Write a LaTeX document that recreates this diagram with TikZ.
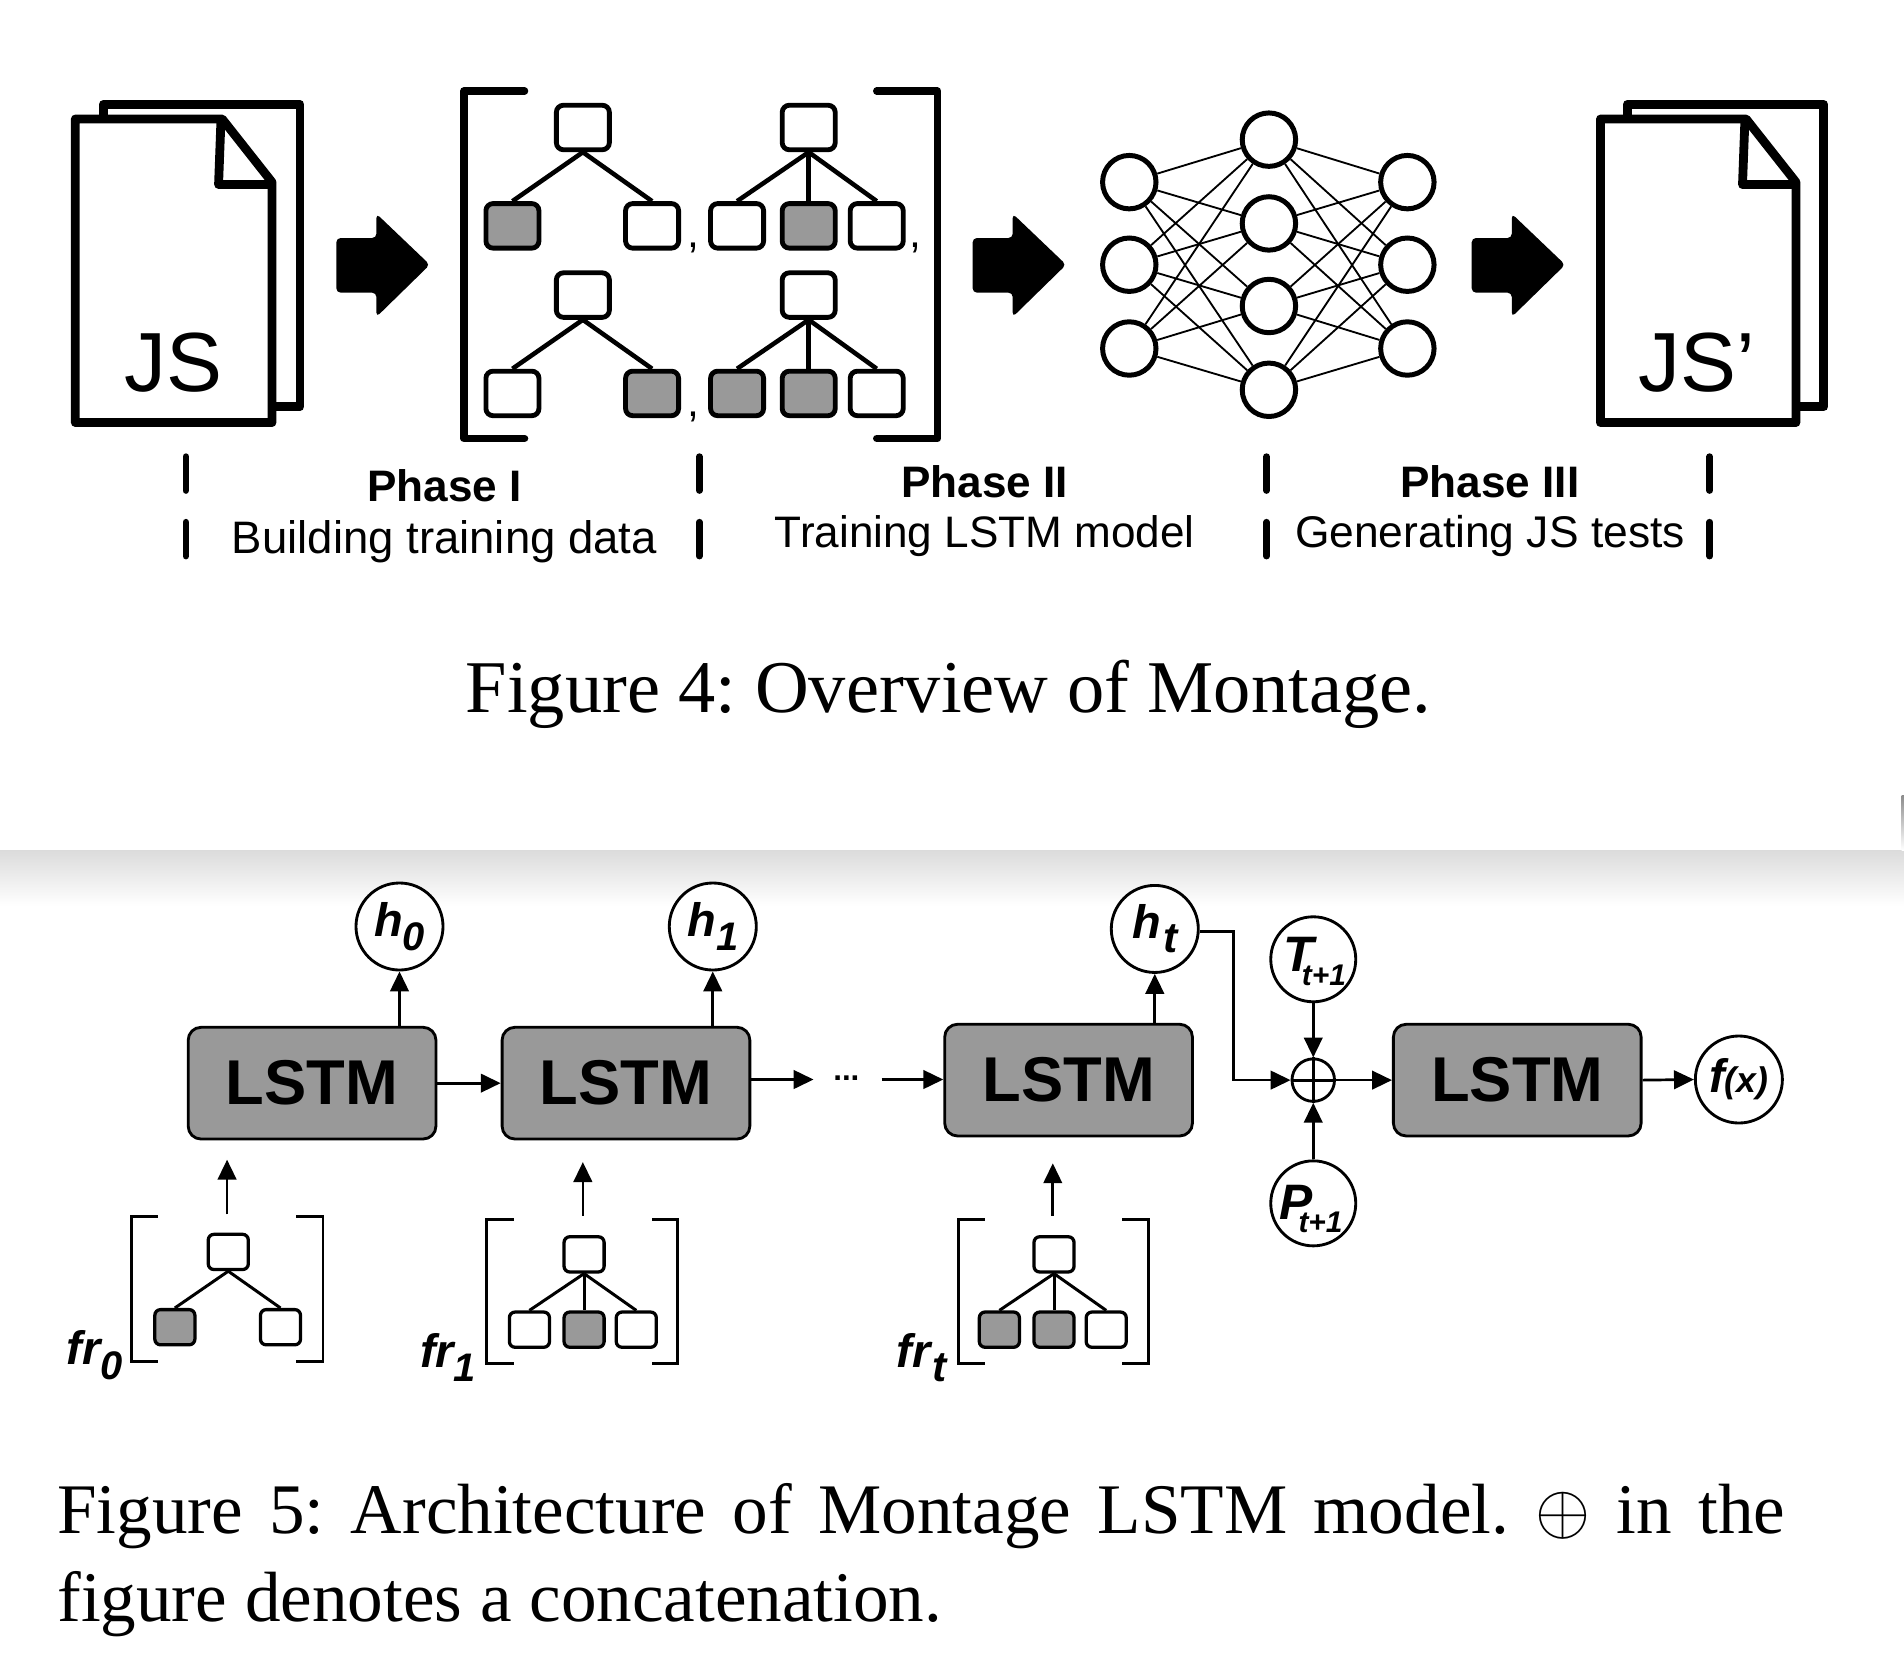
\documentclass[tikz,border=0pt]{standalone}
\usepackage{graphicx}
\usepackage{fontspec}
\setmainfont{Liberation Serif}
\setsansfont{Liberation Sans}
\usetikzlibrary{arrows.meta, positioning}

\definecolor{BoxGray}{RGB}{153, 153, 153}
\newcommand{\fsize}[1]{\fontsize{#1}{#1}\selectfont}
\newcommand{\lowsub}[3]{#1\raisebox{-0.3em}{\fsize{#3}#2}}
\newcommand{\tokensub}[5]{\makebox[0pt][l]{\kern-#4\raisebox{-#2}[0pt][0pt]{#1}\kern-#5\raisebox{-#3}[0pt][0pt]{\fsize{21}t+1}}}

\tikzset{
    pagedoc/.style={line width=6.2pt, line join=round, fill=white},
    bigbracket/.style={line width=5.2pt, line cap=round, line join=round},
    smallbracket/.style={line width=2.1pt},
    bigleaf/.style={draw, line width=3.4pt, rounded corners=5pt, fill=white, minimum width=1.31cm, minimum height=1.1cm, inner sep=0},
    smallleaf/.style={draw, line width=2.3pt, rounded corners=4pt, fill=white, minimum width=0.99cm, minimum height=0.87cm, inner sep=0},
    filled/.style={fill=BoxGray},
    bigedge/.style={line width=3.2pt},
    smalledge/.style={line width=2.1pt},
    nncirc/.style={draw, circle, line width=3.5pt, fill=white, minimum size=1.32cm, inner sep=0},
    nnline/.style={line width=1.3pt},
    septick/.style={line width=4.6pt, line cap=round},
    phasehead/.style={font=\sffamily\bfseries\fsize{31}, anchor=base},
    phasetext/.style={font=\sffamily\fsize{31.2}, anchor=base},
    captionline/.style={font=\rmfamily\frenchspacing\fsize{50}, anchor=base west, inner sep=0},
    lstmbox/.style={draw, line width=2pt, rounded corners=9pt, fill=BoxGray, minimum width=6.12cm, minimum height=2.76cm, inner sep=0, font=\sffamily\bfseries\fsize{44.5}},
    statecirc/.style={draw, circle, line width=2pt, fill=white, minimum size=2.15cm, inner sep=0, font=\sffamily\bfseries\itshape\fsize{33}},
    tokencirc/.style={statecirc, minimum size=2.1cm, font=\sffamily\bfseries\itshape\fsize{35}},
    framelabel/.style={font=\sffamily\bfseries\itshape\fsize{33}},
    flowarrow/.style={-{Triangle[length=14pt,width=13pt]}, line width=1.9pt}
}

\begin{document}
\begin{tikzpicture}[x=0.03cm, y=-0.03cm]
    \useasboundingbox (0,0) rectangle (1568,1372);
    \fill[white] (0,0) rectangle (1568,1372);

    % window edge between the two figures
    \shade[top color=black!14, bottom color=white] (0,700) rectangle (1568,746);
    \shade[top color=black!45, bottom color=white] (1566,655) rectangle (1568,700);

    % input documents
    \draw[pagedoc] (85,86) rectangle (247,335);
    \draw[pagedoc] (62,98) -- (183,98) -- (224,150) -- (224,348) -- (62,348) -- cycle;
    \draw[pagedoc, fill=none] (182,98) -- (180,152) -- (224,152);
    \node[font=\sffamily\fsize{59}, anchor=base] (jsIn) at (143,322) {JS};

    % block arrows
    \foreach \bx in {277,801,1212}
        \fill[black, rounded corners=3pt, shift={(\bx,0)}] (0,196) -- (33,196) -- (33,176) -- (77,218) -- (33,261) -- (33,241) -- (0,241) -- cycle;

    % training data
    \draw[bigbracket] (432,75) -- (382,75) -- (382,361) -- (432,361);
    \draw[bigbracket] (722,75) -- (772,75) -- (772,361) -- (722,361);

    \node[bigleaf] (rootA) at (480,105) {};
    \node[bigleaf, filled] (leafAa) at (422,186) {};
    \node[bigleaf] (leafAb) at (537,186) {};
    \node[bigleaf] (rootB) at (666,105) {};
    \node[bigleaf] (leafBa) at (607,186) {};
    \node[bigleaf, filled] (leafBb) at (666,186) {};
    \node[bigleaf] (leafBc) at (722,186) {};
    \node[bigleaf] (rootC) at (480,243) {};
    \node[bigleaf] (leafCa) at (422,324) {};
    \node[bigleaf, filled] (leafCb) at (537,324) {};
    \node[bigleaf] (rootD) at (666,243) {};
    \node[bigleaf, filled] (leafDa) at (607,324) {};
    \node[bigleaf, filled] (leafDb) at (666,324) {};
    \node[bigleaf] (leafDc) at (722,324) {};

    \foreach \t in {A,C}
        \foreach \c in {a,b}
            \draw[bigedge] (root\t.south) -- (leaf\t\c.north);
    \foreach \t in {B,D}
        \foreach \c in {a,b,c}
            \draw[bigedge] (root\t.south) -- (leaf\t\c.north);

    \node[font=\sffamily\fsize{30}, anchor=base] (commaA) at (571,204) {,};
    \node[font=\sffamily\fsize{30}, anchor=base] (commaB) at (754,204) {,};
    \node[font=\sffamily\fsize{30}, anchor=base] (commaC) at (571,343) {,};

    % network
    \foreach \y [count=\i] in {150,218,287}
        \node[nncirc] (inN\i) at (930,\y) {};
    \foreach \y [count=\i] in {115,184,252,321}
        \node[nncirc] (midN\i) at (1045,\y) {};
    \foreach \y [count=\i] in {150,218,287}
        \node[nncirc] (outN\i) at (1159,\y) {};
    \foreach \i in {1,2,3}
        \foreach \j in {1,2,3,4} {
            \draw[nnline] (inN\i) -- (midN\j);
            \draw[nnline] (outN\i) -- (midN\j);
        }

    % output documents
    \draw[pagedoc] (1340,86) rectangle (1502,335);
    \draw[pagedoc] (1318,98) -- (1438,98) -- (1479,150) -- (1479,348) -- (1318,348) -- cycle;
    \draw[pagedoc, fill=none] (1437,98) -- (1435,152) -- (1479,152);
    \node[font=\sffamily\fsize{59}, anchor=base] (jsOut) at (1397,322) {JS’};

    % phase separators
    \foreach \sx in {153,576,1043,1408} {
        \draw[septick] (\sx,376) -- (\sx,404);
        \draw[septick] (\sx,430) -- (\sx,458);
    }
    \node[phasehead] (phaseOne) at (366,413) {Phase I};
    \node[phasetext, font=\sffamily\fsize{32}] (phaseOneText) at (366,456) {Building training data};
    \node[phasehead] (phaseTwo) at (811,410) {Phase II};
    \node[phasetext, font=\sffamily\fsize{31}] (phaseTwoText) at (811,451) {Training LSTM model};
    \node[phasehead] (phaseThree) at (1227,410) {Phase III};
    \node[phasetext] (phaseThreeText) at (1227,451) {Generating JS tests};

    \node[captionline, font=\rmfamily\frenchspacing\fsize{52.3}, anchor=base] (capFour) at (781,587) {Figure 4: Overview of Montage.};

    % model
    \node[lstmbox] (lstmA) at (257,892) {LSTM};
    \node[lstmbox] (lstmB) at (515.5,892) {LSTM};
    \node[lstmbox] (lstmC) at (880,889.5) {LSTM};
    \node[lstmbox] (lstmD) at (1249.5,889.5) {LSTM};

    \node[statecirc] (hZero) at (329,763) {\lowsub{h}{0}{28}};
    \node[statecirc] (hOne) at (587,763) {\lowsub{h}{1}{28}};
    \node[statecirc] (hLast) at (951,765) {\lowsub{h}{\kern0.05em t}{30}};
    \node[tokencirc] (tokT) at (1081.5,790) {\tokensub{T}{8.5pt}{18.5pt}{21pt}{8.4pt}};
    \node[tokencirc] (tokP) at (1081.5,991) {\tokensub{P}{11pt}{20.5pt}{23.5pt}{10.2pt}};
    \node[statecirc] (fOut) at (1432,889) {f\fsize{25}(x)};
    \node[draw, circle, line width=2pt, minimum size=1.05cm, inner sep=0] (joinC) at (1081.5,889.5) {};
    \draw[line width=2pt] (joinC.north) -- (joinC.south);
    \draw[line width=2pt] (joinC.west) -- (joinC.east);

    \draw[flowarrow] (hZero |- lstmA.north) -- (hZero.south);
    \draw[flowarrow] (hOne |- lstmB.north) -- (hOne.south);
    \draw[flowarrow] (hLast |- lstmC.north) -- (hLast.south);
    \draw[flowarrow] (lstmA) -- (lstmB);

    \coordinate (dotsL) at (670,889);
    \coordinate (dotsR) at (726,889);
    \node[font=\sffamily\bfseries\fsize{22}, inner sep=0] (dotsN) at (697,888) {...};
    \draw[flowarrow] (lstmB.east |- dotsL) -- (dotsL);
    \draw[flowarrow] (dotsR) -- (dotsR -| lstmC.west);

    \coordinate (bendTop) at (1016,767);
    \draw[flowarrow] (hLast.east |- bendTop) -- (bendTop) |- (joinC.west);
    \draw[flowarrow] (tokT.south) -- (joinC.north);
    \draw[flowarrow] (tokP.north) -- (joinC.south);
    \draw[flowarrow] (joinC.east) -- (joinC.east -| lstmD.west);
    \draw[flowarrow] (lstmD.east) -- (fOut.west);

    % frames
    \draw[smallbracket] (130,1002) -- (108,1002) -- (108,1121) -- (130,1121);
    \draw[smallbracket] (244,1002) -- (266,1002) -- (266,1121) -- (244,1121);
    \draw[smallbracket] (423,1004) -- (401,1004) -- (401,1123) -- (423,1123);
    \draw[smallbracket] (537,1004) -- (558,1004) -- (558,1123) -- (537,1123);
    \draw[smallbracket] (811,1004) -- (789,1004) -- (789,1123) -- (811,1123);
    \draw[smallbracket] (924,1004) -- (946,1004) -- (946,1123) -- (924,1123);

    \node[smallleaf] (frootA) at (188,1031) {};
    \node[smallleaf, filled] (fleafAa) at (144,1093) {};
    \node[smallleaf] (fleafAb) at (231,1093) {};
    \node[smallleaf] (frootB) at (481,1033) {};
    \node[smallleaf] (fleafBa) at (436,1095) {};
    \node[smallleaf, filled] (fleafBb) at (481,1095) {};
    \node[smallleaf] (fleafBc) at (524,1095) {};
    \node[smallleaf] (frootC) at (868,1033) {};
    \node[smallleaf, filled] (fleafCa) at (823,1095) {};
    \node[smallleaf, filled] (fleafCb) at (868,1095) {};
    \node[smallleaf] (fleafCc) at (911,1095) {};

    \foreach \c in {a,b}
        \draw[smalledge] (frootA.south) -- (fleafA\c.north);
    \foreach \t in {B,C}
        \foreach \c in {a,b,c}
            \draw[smalledge] (froot\t.south) -- (fleaf\t\c.north);

    \node[framelabel] (frZero) at (78,1116) {\lowsub{fr}{0}{28}};
    \node[framelabel] (frOne) at (369,1118) {\lowsub{fr}{1}{28}};
    \node[framelabel] (frLast) at (759,1118) {\lowsub{fr}{\kern0.05em t}{30}};

    \foreach \n/\ax/\ay/\tipy in {A/187/1000/955, B/480/1001/957, C/867/1001/958} {
        \coordinate (feed\n) at (\ax,\ay);
        \coordinate (feedTip\n) at (\ax,\tipy);
        \draw[flowarrow] (feed\n) -- (feedTip\n);
    }

    \node[captionline] (capFiveA) at (47,1263) {\makebox[42.69cm][s]{Figure 5: Architecture of Montage LSTM model. \scalebox{2}{$\oplus$} in the}};
    \node[captionline] (capFiveB) at (47,1335) {figure denotes a concatenation.};
\end{tikzpicture}
\end{document}
